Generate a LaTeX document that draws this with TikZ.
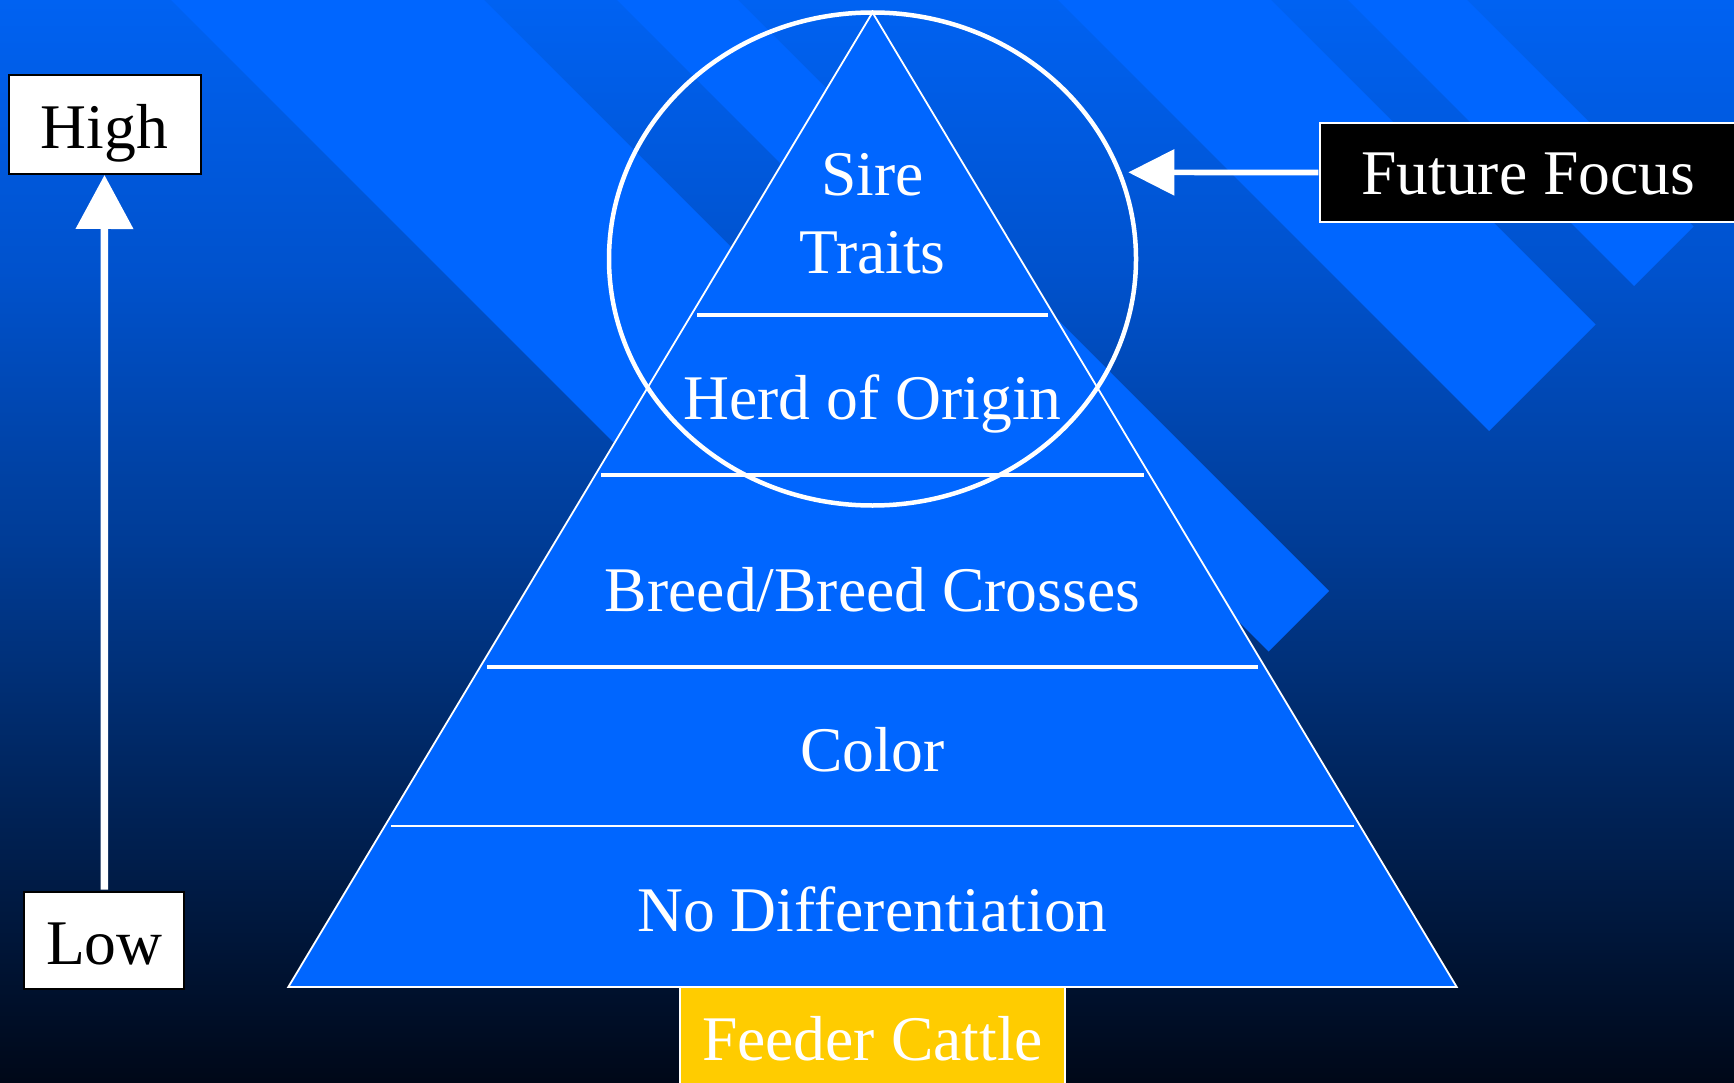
\documentclass[tikz,border=0pt]{standalone}
\usepackage{fontspec}
\setmainfont{Liberation Serif}
\usetikzlibrary{shapes.geometric,arrows.meta}

\definecolor{bgA}{RGB}{0,8,24}
\definecolor{bgB}{RGB}{0,34,86}
\definecolor{bgC}{RGB}{0,60,150}
\definecolor{bgD}{RGB}{0,82,205}
\definecolor{bgE}{RGB}{0,98,242}
\pgfdeclareverticalshading{bgshade}{100bp}{color(0bp)=(bgA); color(25bp)=(bgA); color(37.5bp)=(bgB); color(50bp)=(bgC); color(62.5bp)=(bgD); color(75bp)=(bgE); color(100bp)=(bgE)}
\definecolor{stripe}{RGB}{0,102,255}
\definecolor{pyr}{RGB}{0,102,255}
\definecolor{gold}{RGB}{255,204,0}

\begin{document}
\begin{tikzpicture}[x=1pt,y=-1pt,
  bigfont/.style={font=\fontsize{63.6}{78.5}\selectfont},
  lvl/.style={bigfont, text=white, inner sep=0pt, anchor=base, align=center},
  scalebox/.style={bigfont, draw=black, line width=2pt, fill=white, text=black,
    inner sep=0pt, anchor=base, align=center},
  divthick/.style={white, line width=4.5pt},
  divthin/.style={white, line width=2pt},
  band/.style={fill=stripe, draw=none},
  bigarrow/.style={white, line width=7.5pt, -{Triangle[length=54pt,width=56pt]}},
  focusarrow/.style={white, line width=5.7pt, -{Triangle[length=46pt,width=45pt]}},
]
\useasboundingbox (0,0) rectangle (1734,1083);
\clip (0,0) rectangle (1734,1083);

% background
\shade[shading=bgshade] (0,0) rectangle (1734,1083);

% diagonal bands
\fill[band] (171,0) -- (484,0) -- (1202,718) -- (1045.5,874.5) -- cycle;
\fill[band] (617,0) -- (738,0) -- (1329,591) -- (1268.5,651.5) -- cycle;
\fill[band] (1058,0) -- (1271,0) -- (1595.5,324.5) -- (1489,431) -- cycle;
\fill[band] (1348,0) -- (1467,0) -- (1693.5,226.5) -- (1634,286) -- cycle;

% pyramid
\coordinate (apex) at (872.5,12.5);
\coordinate (bl) at (288.3,987);
\coordinate (br) at (1456.7,987);
\draw[white, line width=1.8pt, fill=pyr] (apex) -- (br) -- (bl) -- cycle;

% dividers
\draw[divthick] (697,315) -- (1048,315);
\draw[divthick] (601,475) -- (1144,475);
\draw[divthick] (487,667) -- (1258,667);
\draw[divthin] (391,826) -- (1354,826);

% focus ellipse
\node[ellipse, draw=white, line width=4.5pt, minimum width=527pt, minimum height=493pt, inner sep=0pt] (focus) at (872.5,259) {};

% level labels
\node[lvl] (sire) at (872.5,274) {Sire\\Traits};
\node[lvl] (herd) at (872.5,419) {Herd of Origin};
\node[lvl] (breed) at (872.5,611) {Breed/Breed Crosses};
\node[lvl] (color) at (872.5,771) {Color};
\node[lvl] (nodiff) at (872.5,931.5) {No Differentiation};

% feeder cattle
\node[scalebox, draw=white, line width=1.5pt, fill=gold, text=white,
  minimum width=385pt, text height=73pt, text depth=40pt] (feeder) at (872.5,1060) {Feeder Cattle};

% scale boxes
\node[scalebox, minimum width=192pt, text height=73.3pt, text depth=25.7pt] (high) at (104.5,148.3) {High};
\node[scalebox, minimum width=160pt, text height=72.6pt, text depth=25pt] (low) at (104.3,964.3) {Low};
\draw[bigarrow, shorten <=1pt] (low.north) -- (high.south);

% future focus
\node[scalebox, draw=white, fill=black, text=white, minimum width=415.8pt,
  text height=72.3pt, text depth=27.3pt] (ff) at (1528.2,195) {Future Focus};
\coordinate (fftip) at (1128.3,172.35);
\draw[focusarrow, shorten <=1pt] (ff.west) -- (fftip);
\end{tikzpicture}
\end{document}
